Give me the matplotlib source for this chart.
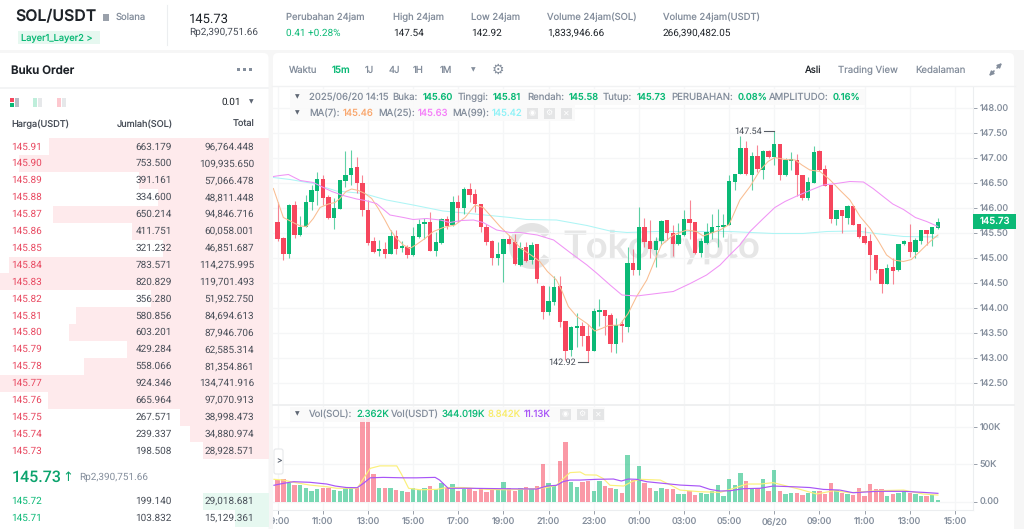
# SOL/USDT 15m candle view with order book, rebuilt from a screenshot
import matplotlib
matplotlib.use('Agg')
import matplotlib.pyplot as plt
from matplotlib.patches import FancyBboxPatch, Rectangle, Wedge, Circle

plt.rcParams['font.family'] = ['Inter', 'DejaVu Sans']
plt.rcParams['text.hinting'] = 'no_hinting'
plt.rcParams['text.hinting_factor'] = 1

W, H = 1024, 529

# %% candle data, bar 0 is 09:00 on 06/19, one bar per 15 minutes
opens = [145.71,145.41,145.08,146.06,145.47,145.62,146.12,146.35,146.58,146.21,
         145.80,145.99,146.54,146.67,146.81,146.50,145.97,145.35,145.15,145.18,
         145.09,145.45,145.21,145.23,145.06,145.43,145.69,145.73,145.14,145.31,
         145.78,145.67,146.13,146.01,146.38,146.27,146.08,145.63,145.35,145.01,
         145.09,145.38,145.32,144.87,145.21,144.97,145.27,144.44,143.93,144.13,
         144.44,143.75,143.16,143.61,143.65,143.45,143.15,143.93,143.96,143.86,
         143.29,143.68,143.63,144.91,144.76,145.61,145.33,145.16,145.35,145.76,
         145.51,145.28,145.46,145.78,145.73,145.11,145.31,145.51,145.61,145.63,
         145.66,146.53,146.69,147.19,146.67,147.04,146.76,147.14,147.03,147.29,
         146.66,146.95,146.96,146.66,146.21,146.51,147.13,146.77,146.46,145.79,
         145.96,145.81,146.04,145.68,145.45,145.33,145.06,144.79,144.49,144.81,
         144.76,145.28,145.33,145.13,145.35,145.55,145.48,145.60]
highs = [146.11,145.43,146.08,146.15,145.85,146.26,146.46,146.71,146.66,146.26,
         146.21,146.57,147.14,147.15,147.03,146.66,146.16,145.43,145.37,145.33,
         145.57,145.57,145.35,145.26,145.63,145.79,145.81,145.93,145.53,145.81,
         145.84,146.24,146.26,146.43,146.49,146.39,146.08,145.69,145.37,145.33,
         145.37,145.47,145.48,145.33,145.33,145.33,145.27,144.46,144.44,144.64,
         144.64,143.75,143.64,143.91,143.73,143.69,144.01,144.18,143.96,143.90,
         143.81,143.77,145.22,145.19,146.03,145.81,145.76,145.43,145.76,145.76,
         145.66,145.71,145.96,146.17,145.73,145.41,145.71,145.89,145.99,145.89,
         146.66,146.69,147.44,147.33,147.13,147.26,147.17,147.17,147.54,147.29,
         147.00,147.13,147.09,146.66,146.61,147.24,147.17,146.86,146.46,145.97,
         145.97,146.06,146.04,145.68,145.61,145.48,145.06,144.79,144.88,145.01,
         145.28,145.37,145.69,145.41,145.57,145.55,145.63,145.81]
lows = [145.34,144.96,145.01,145.41,145.45,145.61,145.96,146.07,146.05,145.79,
        145.59,145.98,146.43,146.46,146.31,145.84,145.26,145.11,145.04,145.00,
        145.08,145.09,145.13,145.00,145.05,145.41,145.39,145.15,145.04,145.29,
        145.59,145.65,145.73,145.89,146.13,145.93,145.53,145.26,144.86,144.86,
        144.52,145.28,144.86,144.85,144.93,144.89,144.51,143.79,143.86,144.06,
        143.63,142.96,143.04,143.23,143.24,142.92,143.15,143.65,143.46,143.13,
        143.11,143.33,143.53,144.66,144.66,145.23,145.01,144.83,145.26,145.36,
        145.04,145.27,145.45,145.39,145.09,145.03,145.29,145.39,145.23,145.43,
        145.66,146.36,146.68,146.66,146.37,146.73,146.58,147.01,146.86,146.57,
        146.65,146.76,146.24,146.17,146.17,146.51,146.75,146.44,145.71,145.66,
        145.51,145.69,145.66,145.41,145.28,144.56,144.71,144.30,144.48,144.49,
        144.75,145.26,145.03,145.00,145.29,145.26,145.24,145.58]
closes = [145.39,145.08,146.06,145.46,145.62,146.13,146.36,146.58,146.20,145.80,
          146.00,146.56,146.67,146.81,146.49,145.96,145.31,145.13,145.18,145.09,
          145.44,145.19,145.23,145.06,145.45,145.69,145.73,145.15,145.32,145.78,
          145.65,146.12,146.01,146.39,146.26,146.08,145.62,145.33,145.00,145.09,
          145.37,145.29,144.88,145.20,144.95,145.26,144.58,143.93,144.15,144.43,
          143.72,143.15,143.63,143.64,143.44,143.15,143.94,143.96,143.85,143.29,
          143.67,143.64,144.90,144.76,145.61,145.33,145.18,145.35,145.75,145.51,
          145.29,145.47,145.77,145.71,145.11,145.34,145.53,145.63,145.64,145.66,
          146.53,146.69,147.19,146.69,147.04,146.77,147.13,147.03,147.28,146.66,
          146.96,146.97,146.66,146.21,146.53,147.11,146.76,146.45,145.79,145.96,
          145.83,146.04,145.67,145.43,145.31,145.06,144.77,144.48,144.81,144.75,
          145.28,145.35,145.13,145.36,145.56,145.48,145.61,145.73]
volumes = [29,30,25,23,23,19,14,16.5,19,18,16,14,19,19,19,112,112,37,19,18,
           18,16,14,13,19,16,19,21,17,25,19,24,14,17,18,15,16.5,12.5,19,16.5,
           26,18,15,18,20,16.5,21,50.5,25,22,54.5,79.5,27,20,26,28,15,28,21,19,
           16.5,11,62.5,29,48,25.5,18,14,18,17.5,16.5,10,10,15,9,12,10,15,22,8,
           31,23,39,28,18,18,31,14,42.5,14,10,12,12,9,12,14,14,10,25.5,16,
           12,10,9,18,8,24,17.5,17.5,8,10,12,15,12,10,8,8,9,2.4]

# moving averages, (bar, value)
ma7_x = [-0.77,1,2.06,3.07,4.07,5.13,6.31,7.5,8.97,10.15,11.04,12.1,13.1,14.29,15.47,16.65,17.83,19,19.9,
         21.08,22.26,23.4,24.6,26.1,27.6,29.35,31.4,33.2,35,36.4,37.6,39.4,41.2,43,45,46.45,47.8,49.4,50.3,
         51.5,53,54.8,56.2,57.4,58.6,60.6,62.1,63.6,65.4,67,68,70.1,72.5,74.2,75.4,76.6,78.4,80,81.9,83.7,
         85.5,86.9,88.1,89.9,91.7,92.9,94.3,96.1,97.9,99.6,101.4,103.2,105,106.5,107.9,109.1,110.9,112.3,
         113.8,115.6,117]
ma7_y = [146.39,145.81,145.75,145.69,145.64,145.63,145.79,146.01,146.08,146.11,146.19,146.33,146.38,146.35,
         146.29,146.19,145.99,145.76,145.57,145.39,145.26,145.19,145.27,145.39,145.53,145.61,145.66,145.81,
         146.06,146.01,145.86,145.63,145.43,145.2,145.05,144.93,144.73,144.56,144.36,144.03,143.83,143.69,
         143.54,143.59,143.65,143.66,143.89,144.23,144.56,145.0,145.26,145.46,145.56,145.53,145.44,145.49,
         145.56,145.67,146.16,146.43,146.76,146.93,147.01,146.97,146.96,146.86,146.76,146.73,146.56,146.36,
         146.16,145.83,145.59,145.33,145.06,144.96,144.93,144.97,145.13,145.33,145.46]
ma25_x = [-0.77,0.4,1.9,4,6.3,8.1,9.6,11.6,14,15.5,17.5,19.9,22.3,24,26.4,28.8,30.5,32.6,34.7,36.4,38.8,41.2,
          42.9,46,48.9,51.8,53.6,54.8,56.6,58.9,61,63.6,67.2,70.1,73.1,76,78.4,80.1,81.9,83.7,86.05,88.1,89.9,
          92,94.3,96.7,99,101.4,103.8,105.5,107.3,109,110.9,113,115,117]
ma25_y = [146.63,146.65,146.67,146.55,146.51,146.41,146.33,146.25,146.18,146.15,146.09,145.86,145.81,145.77,
          145.79,145.76,145.71,145.75,145.76,145.71,145.56,145.51,145.51,145.46,145.36,145.11,144.96,144.86,
          144.69,144.46,144.26,144.24,144.29,144.33,144.49,144.66,144.86,145.06,145.26,145.53,145.79,146.01,
          146.13,146.24,146.35,146.46,146.49,146.53,146.52,146.39,146.23,146.08,145.97,145.81,145.73,145.63]
ma99_x = [-0.77,2.2,6.3,10.4,15.2,19.3,24,29.3,34,41.2,44.1,49.4,54.8,58.9,61.9,67.2,74.2,80.1,87.8,93.1,97.3,
          102.6,106.7,110.9,117]
ma99_y = [146.61,146.57,146.49,146.34,146.29,146.16,146.06,145.94,145.89,145.81,145.77,145.76,145.65,145.54,
          145.51,145.53,145.53,145.53,145.49,145.49,145.53,145.54,145.48,145.43,145.42]
vol_fast_x = [-0.66,1,2.8,5.7,8.7,10.4,14.1,15.2,16.4,18.1,21.1,22,23.2,25.2,28.2,29.9,32.9,37,41.2,45.3,47.7,
              49.4,50.6,51.8,53.6,54.5,56.5,57.7,58.9,61.3,62.8,64.2,67.8,69.7,71.3,74.8,78.4,80.8,83.1,85.5,
              87.8,90.2,92.6,95.5,98.5,101.4,106.1,110.9,114.4,117]
vol_fast_y = [30,29,26,22.3,20,18,18,31,44.7,48,48,36,18,16,16.5,19,19,16.5,16,17.4,19,22,31,39,39.8,36,35.7,
              31,22,21,27,30,29,22,15.6,13.4,12.5,17.9,23.7,23.7,25.5,21,16.5,10.3,14.7,12,14.7,15.6,10.3,8.9]
vol_slow_x = [-0.66,1,2.8,5.7,8.7,10.2,12.2,14.1,15.2,16.4,18.7,22.3,24.6,27.9,28.7,30.2,34,40,45.9,47.7,49.4,
              50.6,51.8,53.6,56.5,59.5,60.9,62.1,63.6,65.4,68.3,71.3,74.8,76.6,78.4,80.2,82.5,85.5,87.8,91.4,
              94.3,96.7,99.6,102,106.1,110.9,114.4,117]
vol_slow_y = [22,24.6,26.8,26,23.7,21,19,18.8,24.6,32,32.6,32,32,32.6,29,18,18,17.4,17,21,22,27,29,29,30,30.4,
              27.7,30.4,30,26.8,24.6,22.3,21,16.5,14.3,14.7,17.4,18,21,20,19,16.5,15.6,12,13.9,13.9,12.5,11.2]

price_ticks = [148.0,147.5,147.0,146.5,146.0,145.5,145.0,144.5,144.0,143.5,143.0,142.5]
vol_ticks = [100,50,0]
vol_tick_labels = ['100K','50K','0.00']
time_ticks = [0,8,16,24,32,40,48,56,64,72,80,88,96,104,112,120]
time_labels = ['09:00','11:00','13:00','15:00','17:00','19:00','21:00','23:00',
               '01:00','03:00','05:00','06/20','09:00','11:00','13:00','15:00']

# %% order book, totals in millions for the depth bars
ask_prices = ['145.91','145.90','145.89','145.88','145.87','145.86','145.85','145.84','145.83',
              '145.82','145.81','145.80','145.79','145.78','145.77','145.76','145.75','145.74','145.73']
ask_amounts = ['663.179','753.500','391.161','334.600','650.214','411.751','321.232','783.571','820.829',
               '356.280','580.856','603.201','429.284','558.066','924.346','665.964','267.571','239.337','198.508']
ask_totals = ['96,764.448','109,935.650','57,066.478','48,811.448','94,846.716','60,058.001','46,851.687',
              '114,275.995','119,701.493','51,952.750','84,694.613','87,946.706','62,585.314','81,354.861',
              '134,741.916','97,070.913','38,998.473','34,880.974','28,928.571']
bid_prices = ['145.72','145.71']
bid_amounts = ['199.140','103.832']
bid_totals = ['29,018.681','15,129.361']

GREEN = '#0bb976'
RED = '#f6465d'
GREY = '#848e9c'
DARK = '#1e2329'
GRID = '#f5f6f7'
ROW_H = 16.9

fig = plt.figure(figsize=(W / 100, H / 100), dpi=100, facecolor='#f6f6f6')


def px_axes(left, top, right, bottom, z):
    a = fig.add_axes([left / W, 1 - bottom / H, (right - left) / W, (bottom - top) / H], zorder=z)
    a.patch.set_alpha(0)
    return a


def num_total(s):
    return float(s.replace(',', '')) / 1000


# %% background layer, chart panel and watermark
bg = px_axes(0, 0, W, H, 0)
bg.set_xlim(0, W)
bg.set_ylim(H, 0)
bg.axis('off')
bg.add_patch(FancyBboxPatch((273, 53), 741, 490, boxstyle='round,pad=0,rounding_size=5', fc='white', ec='none'))
bg.add_patch(FancyBboxPatch((-10, -10), W + 20, 60, boxstyle='round,pad=0,rounding_size=5', fc='white', ec='none'))
bg.add_patch(Wedge((532, 246), 23, 35, 325, width=8.5, fc='#e4e4e4', ec='none'))
bg.text(563, 258, 'Tokocrypto', fontsize=27, color='#e6e6e6', family='Lato', weight='bold', ha='left', va='baseline')

# %% main price panel
x0_px, bar_px = 277.7, 5.643
xlim = ((272 - x0_px) / bar_px, (973 - x0_px) / bar_px)
ax = px_axes(272, 87, 973, 404, 1)
ax.set_xlim(*xlim)
ax.set_ylim(148 - (404 - 108) / 50, 148 + (108 - 87) / 50)
bar_x = list(range(len(opens)))
colors = [GREEN if c >= o else RED for o, c in zip(opens, closes)]
ax.vlines(bar_x, lows, highs, colors=colors, lw=0.8, alpha=0.65, zorder=3)
bottoms = [min(o, c) for o, c in zip(opens, closes)]
heights = [max(abs(c - o), 0.03) for o, c in zip(opens, closes)]
ax.bar(bar_x, heights, bottom=bottoms, width=0.78, color=colors, linewidth=0, zorder=3)
ax.plot(ma7_x, ma7_y, color='#f9bd91', lw=0.75, zorder=4)
ax.plot(ma25_x, ma25_y, color='#f093f5', lw=0.75, zorder=4)
ax.plot(ma99_x, ma99_y, color='#aef5f5', lw=0.75, zorder=2.5)
ax.set_yticks(price_ticks)
ax.set_yticklabels(['%.2f' % p for p in price_ticks])
ax.set_xticks(time_ticks)
ax.tick_params(axis='x', length=0, labelbottom=False)
ax.yaxis.tick_right()
ax.tick_params(axis='y', length=3, width=0.7, color='#9aa1ab', labelcolor=GREY, labelsize=6.5, pad=2)
ax.grid(True, color=GRID, lw=0.9, zorder=0)
ax.set_axisbelow(True)
for name in ['top', 'left', 'bottom']:
    ax.spines[name].set_visible(False)
ax.spines['right'].set_color('#eceef0')

# high and low markers
i_hi = highs.index(max(highs))
i_lo = lows.index(min(lows))
ax.plot([i_hi - 1.75, i_hi], [highs[i_hi], highs[i_hi]], color='#555b63', lw=0.8, zorder=5)
ax.text(i_hi - 2.1, highs[i_hi], '%.2f' % highs[i_hi], fontsize=6.4, color='#474d57', ha='right', va='center', family='Roboto', zorder=5)
ax.plot([i_lo - 1.75, i_lo], [lows[i_lo], lows[i_lo]], color='#555b63', lw=0.8, zorder=5)
ax.text(i_lo - 2.1, lows[i_lo], '%.2f' % lows[i_lo], fontsize=6.4, color='#474d57', ha='right', va='center', family='Roboto', zorder=5)

# %% volume panel
vol = px_axes(272, 406, 973, 510, 1)
vol.set_xlim(*xlim)
vol.set_ylim((501.7 - 510) / 0.746, (501.7 - 406) / 0.746)
vol.bar(bar_x, volumes, width=0.78, color=colors, alpha=0.55, linewidth=0, zorder=3)
vol.plot(vol_fast_x, vol_fast_y, color='#fbf07a', lw=0.85, zorder=4)
vol.plot(vol_slow_x, vol_slow_y, color='#a855f7', lw=0.85, zorder=5)
vol.set_yticks(vol_ticks)
vol.set_yticklabels(vol_tick_labels)
vol.set_xticks(time_ticks)
vol.set_xticklabels(time_labels)
vol.yaxis.tick_right()
vol.tick_params(axis='y', length=3, width=0.7, color='#9aa1ab', labelcolor=GREY, labelsize=6.5, pad=2)
vol.tick_params(axis='x', length=3, width=0.7, color='#9aa1ab', labelcolor=GREY, labelsize=6.5, pad=3)
vol.grid(True, color=GRID, lw=0.9, zorder=0)
vol.set_axisbelow(True)
for name in ['top', 'left']:
    vol.spines[name].set_visible(False)
vol.spines['right'].set_color('#eceef0')
vol.spines['bottom'].set_color('#eceef0')

# %% depth bars of the order book
ask_y = [146.7 + ROW_H * i for i in range(len(ask_prices))]
bid_y = [501 + 17 * i for i in range(len(bid_prices))]
ui = px_axes(0, 0, W, H, 3)
ui.set_xlim(0, W)
ui.set_ylim(H, 0)
ui.axis('off')
ui.add_patch(FancyBboxPatch((-10, 53), 278.5, 490, boxstyle='round,pad=0,rounding_size=5', fc='white', ec='none', zorder=0))
ui.add_patch(Rectangle((268.5, 50), 4, 480, fc='#f6f6f6', ec='none', zorder=0))
book = px_axes(0, 0, 269, H, 3.1)
book.set_xlim(269 / 2.273, 0)
book.set_ylim(H, 0)
book.axis('off')
book.barh(ask_y, [num_total(t) for t in ask_totals], height=ROW_H, color='#feeaec', linewidth=0)
book.barh(bid_y, [num_total(t) for t in bid_totals], height=17, color='#e6f8f0', linewidth=0)

# %% all the interface text sits on a pixel axes on top
top = px_axes(0, 0, W, H, 4)
top.set_xlim(0, W)
top.set_ylim(H, 0)
top.axis('off')


def txt(x, y, s, size=7, color=GREY, ha='left', weight='normal', family=None):
    kw = {'family': family} if family else {}
    return top.text(x, y, s, fontsize=size, color=color, ha=ha, va='center', weight=weight, **kw)


def small_btn(xc, yc, s):
    top.add_patch(Rectangle((xc - 5.5, yc - 5.5), 11, 11, fc='#e4e5e6', ec='none'))
    txt(xc, yc, s, size=6, color='white', ha='center', family='DejaVu Sans')


NUM = 'Roboto'
# top bar
txt(15, 17, 'SOL/USDT', size=11.4, color=DARK, weight='semibold')
top.add_patch(Rectangle((103, 14), 6, 7, fc='#9aa1ab', ec='none'))
txt(116, 17, 'Solana', size=6.8)
top.add_patch(Rectangle((18, 31), 82, 13, fc='#e6f8f0', ec='none'))
txt(21, 38, 'Layer1_Layer2 >', size=6.7, color=GREEN)
top.plot([167, 167], [5, 45], color='#eceef0', lw=0.8)
txt(189, 19, '145.73', size=9.4, color=DARK, family=NUM)
txt(189, 32, 'Rp2,390,751.66', size=7.2, color='#474d57', family=NUM)
txt(286, 17, 'Perubahan 24jam', size=6.8)
txt(286, 33, '0.41 +0.28%', size=7.2, color=GREEN, family=NUM)
txt(393, 17, 'High 24jam', size=6.8)
txt(393, 33, '147.54', size=7.2, color=DARK, family=NUM)
txt(471, 17, 'Low 24jam', size=6.8)
txt(471, 33, '142.92', size=7.2, color=DARK, family=NUM)
txt(547, 17, 'Volume 24jam(SOL)', size=6.8)
txt(547, 33, '1,833,946.66', size=7.2, color=DARK, family=NUM)
txt(663, 17, 'Volume 24jam(USDT)', size=6.8)
txt(663, 33, '266,390,482.05', size=7.2, color=DARK, family=NUM)

# left panel head
txt(11, 71, 'Buku Order', size=8.3, color=DARK, weight='semibold')
for xd in [238.5, 244.5, 250.5]:
    top.add_patch(Rectangle((xd - 1.5, 68), 3, 3, fc='#848e9c', ec='none'))
top.plot([0, 268], [88, 88], color='#f1f2f3', lw=1.2)
top.add_patch(Rectangle((10, 98), 4, 4, fc=RED, ec='none'))
top.add_patch(Rectangle((10, 103), 4, 4, fc=GREEN, ec='none'))
top.add_patch(Rectangle((15, 98), 4, 9, fc='#b7bdc6', ec='none'))
top.add_patch(Rectangle((33, 98), 4, 9, fc='#bfeedb', ec='none'))
top.add_patch(Rectangle((38, 98), 4, 9, fc='#e6e8ea', ec='none'))
top.add_patch(Rectangle((57, 98), 4, 9, fc='#fdc8cf', ec='none'))
top.add_patch(Rectangle((62, 98), 4, 9, fc='#e6e8ea', ec='none'))
txt(221, 102, '0.01', size=7, color=DARK, family=NUM)
txt(251, 102, '▼', size=4.5, color='#5e6673', ha='center', family='DejaVu Sans')
txt(11, 124, 'Harga(USDT)', size=6.6, color='#474d57')
txt(173, 124, 'Jumlah(SOL)', size=6.6, color='#474d57', ha='right')
txt(254, 124, 'Total', size=6.6, color='#474d57', ha='right')

# order book rows
for yr, p, a, t in zip(ask_y, ask_prices, ask_amounts, ask_totals):
    txt(11, yr, p, size=7.1, color='#e8475f', family=NUM)
    txt(172, yr, a, size=7.1, color='#474d57', ha='right', family=NUM)
    txt(254, yr, t, size=7.1, color='#474d57', ha='right', family=NUM)
for yr, p, a, t in zip(bid_y, bid_prices, bid_amounts, bid_totals):
    txt(11, yr, p, size=7.1, color=GREEN, family=NUM)
    txt(172, yr, a, size=7.1, color='#474d57', ha='right', family=NUM)
    txt(254, yr, t, size=7.1, color='#474d57', ha='right', family=NUM)
txt(12, 477, '145.73', size=11.8, color='#0ca36d', weight='medium', family=NUM)
txt(68, 477, '↑', size=9, color='#0ca36d', ha='center', family='DejaVu Sans')
txt(79, 477, 'Rp2,390,751.66', size=7.1, color=GREY, family=NUM)

# chart toolbar
txt(289, 70, 'Waktu', size=6.8)
txt(332, 70, '15m', size=7, color=GREEN, weight='medium')
for xt, s in zip([365, 389, 413, 440], ['1J', '4J', '1H', '1M']):
    txt(xt, 70, s, size=6.8)
txt(473, 70, '▼', size=4.5, color='#848e9c', ha='center', family='DejaVu Sans')
txt(498, 70, '⚙', size=10, color='#848e9c', ha='center', family='DejaVu Sans')
txt(805, 70, 'Asli', size=7, color=DARK)
txt(838, 70, 'Trading View', size=6.9)
txt(915, 70, 'Kedalaman', size=6.9)
top.annotate('', xy=(1002, 63), xytext=(997, 68), arrowprops=dict(arrowstyle='-|>', color='#848e9c', lw=1.2, mutation_scale=6, shrinkA=0, shrinkB=0))
top.annotate('', xy=(989, 76), xytext=(994, 71), arrowprops=dict(arrowstyle='-|>', color='#848e9c', lw=1.2, mutation_scale=6, shrinkA=0, shrinkB=0))
top.plot([272, 1015], [86, 86], color='#f1f2f3', lw=1)
top.add_patch(Rectangle((272, 404), 743, 2, fc='#eff0f1', ec='none'))

# chart legends
top.add_patch(Rectangle((290, 89), 575, 16, fc='#fafafa', ec='none', alpha=0.85, zorder=0))
top.add_patch(Rectangle((290, 105), 285, 16, fc='#fafafa', ec='none', alpha=0.85, zorder=0))
top.add_patch(Rectangle((290, 407), 315, 15, fc='#fafafa', ec='none', alpha=0.85, zorder=0))
LG = 6.9
txt(297, 97, '▼', size=4.2, color='#5e6673', ha='center', family='DejaVu Sans')
for xt, s, c in [(309, '2025/06/20 14:15', GREY), (392, 'Buka:', GREY), (423, '145.60', GREEN),
                 (458, 'Tinggi:', GREY), (493, '145.81', GREEN), (527, 'Rendah:', GREY), (569, '145.58', GREEN),
                 (603, 'Tutup:', GREY), (637, '145.73', GREEN), (671, 'PERUBAHAN:', GREY), (738, '0.08%', GREEN),
                 (769, 'AMPLITUDO:', GREY), (833, '0.16%', GREEN)]:
    txt(xt, 97, s, size=LG if c == GREY else LG - 0.2, color=c, weight='medium' if c == GREEN else 'normal')
txt(297, 113, '▼', size=4.2, color='#5e6673', ha='center', family='DejaVu Sans')
for xt, s, c in [(309, 'MA(7):', GREY), (343, '145.46', '#f9a66c'), (378, 'MA(25):', GREY), (418, '145.63', '#f57cf9'),
                 (452, 'MA(99):', GREY), (492, '145.42', '#8df2f7')]:
    txt(xt, 113, s, size=LG, color=c)
for xc, s in zip([532, 549, 566], ['◉', '⚙', '✕']):
    small_btn(xc, 113, s)
txt(297, 414, '▼', size=4.2, color='#5e6673', ha='center', family='DejaVu Sans')
for xt, s, c in [(309, 'Vol(SOL):', GREY), (356, '2.362K', GREEN), (391, 'Vol(USDT)', GREY), (442, '344.019K', GREEN),
                 (488, '8.842K', '#f8ec6a'), (524, '11.13K', '#a855f7')]:
    txt(xt, 414, s, size=LG, color=c)
for xc, s in zip([565, 582, 598], ['◉', '⚙', '✕']):
    small_btn(xc, 414, s)

# last price tag and side tab
top.add_patch(Rectangle((973, 214), 43, 15, fc=GREEN, ec='none'))
txt(994.5, 221.5, '145.73', size=6.9, color='white', ha='center', weight='medium')
top.add_patch(FancyBboxPatch((274, 449), 9, 25, boxstyle='round,pad=0,rounding_size=2', fc='white', ec='#e6e8ea', lw=0.8))
txt(278.5, 461, '>', size=6, color='#5e6673', ha='center')

fig.savefig('out.png', dpi=100, facecolor=fig.get_facecolor())
